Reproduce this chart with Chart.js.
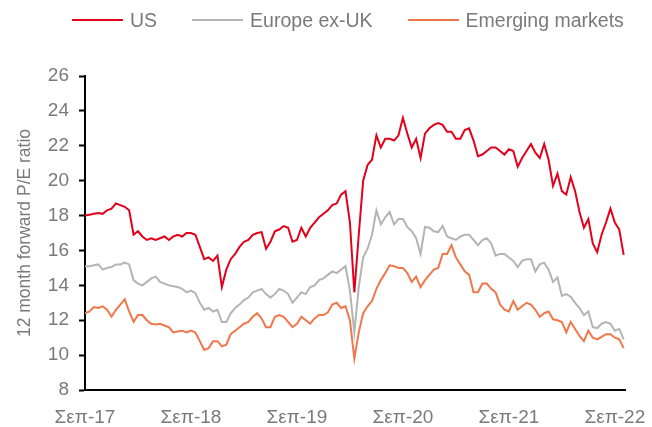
<!DOCTYPE html>
<html lang="el">
<head>
    <meta charset="UTF-8">
    <meta name="viewport" content="width=device-width, initial-scale=1.0">
    <title>12 month forward P/E ratio</title>
    <script src="https://cdn.jsdelivr.net/npm/chart.js"></script>
    <style>
        body {
            margin: 0;
            background: #fff;
            font-family: 'Liberation Sans', Arial, sans-serif;
        }

        #wrap {
            position: relative;
            width: 652px;
            height: 427px;
        }

        #legend {
            position: absolute;
            top: 8px;
            left: 72px;
            display: flex;
            align-items: center;
            color: #7a7a7a;
            font-size: 19.5px;
            line-height: 24px;
            white-space: nowrap;
        }

        #legend .item {
            display: flex;
            align-items: center;
            margin-right: 35px;
        }

        #legend .swatch {
            width: 51px;
            height: 2.5px;
            margin-right: 7px;
        }
    </style>
</head>
<body>
    <div id="wrap">
        <canvas id="peChart" width="652" height="427"></canvas>
        <div id="legend"></div>
    </div>

    <script>
        // x-axis: months since Sep 2017, one reading every half month
        const step = 0.5;
        const tickMonths = [0, 12, 24, 36, 48, 60];
        const tickLabels = ['Σεπ-17', 'Σεπ-18', 'Σεπ-19', 'Σεπ-20', 'Σεπ-21', 'Σεπ-22'];

        const seriesNames = ['US', 'Europe ex-UK', 'Emerging markets'];
        const seriesColors = ['#E3001B', '#B4B4B4', '#EF774A'];

        // values
        const us = [
            18.0, 18.05, 18.1, 18.15, 18.1, 18.3, 18.4, 18.7, 18.6, 18.5,
            18.3, 16.9, 17.1, 16.8, 16.6, 16.7, 16.6, 16.7, 16.8, 16.6,
            16.8, 16.9, 16.8, 17.0, 17.0, 16.9, 16.2, 15.5, 15.6, 15.4,
            15.7, 13.9, 14.9, 15.5, 15.8, 16.2, 16.5, 16.6, 16.9, 17.0,
            17.05, 16.1, 16.5, 17.1, 17.2, 17.4, 17.3, 16.5, 16.6, 17.3,
            16.8, 17.3, 17.6, 17.9, 18.1, 18.3, 18.6, 18.7, 19.2, 19.4,
            17.6, 13.6, 16.9, 20.0, 20.9, 21.2, 22.6, 21.9, 22.4, 22.4,
            22.3, 22.6, 23.6, 22.7, 21.9, 22.4, 21.3, 22.7, 23.0, 23.2,
            23.3, 23.2, 22.8, 22.8, 22.4, 22.4, 22.9, 23.0, 22.3, 21.4,
            21.5, 21.7, 21.9, 21.9, 21.7, 21.5, 21.8, 21.7, 20.8, 21.3,
            21.7, 22.1, 21.6, 21.3, 22.1, 21.2, 19.7, 20.4, 19.4, 19.2,
            20.2, 19.4, 18.2, 17.3, 17.8, 16.4, 15.9, 16.9, 17.6, 18.4,
            17.6, 17.2, 15.75
        ];

        const europe = [
            15.1, 15.1, 15.15, 15.2, 14.9, 15.0, 15.05, 15.2, 15.2, 15.3,
            15.2, 14.3, 14.1, 14.0, 14.2, 14.4, 14.5, 14.2, 14.1, 14.0,
            13.95, 13.9, 13.8, 13.6, 13.7, 13.55, 13.0, 12.6, 12.7, 12.5,
            12.6, 11.9, 11.9, 12.4, 12.7, 12.9, 13.15, 13.3, 13.6, 13.7,
            13.8, 13.5, 13.3, 13.5, 13.8, 13.7, 13.5, 13.0, 13.3, 13.6,
            13.5, 13.9, 14.0, 14.3, 14.4, 14.6, 14.8, 14.7, 14.9, 15.1,
            13.7, 11.3, 13.9, 15.6, 16.1, 16.9, 18.3, 17.5, 17.9, 18.2,
            17.5, 17.8, 17.8, 17.35, 17.1, 16.7, 15.8, 17.35, 17.3, 17.1,
            17.05, 17.4, 16.8, 16.7, 16.6, 16.8, 16.9, 16.9, 16.6, 16.3,
            16.6, 16.7, 16.4, 15.7, 15.8, 15.8, 15.6, 15.4, 15.05, 15.4,
            15.5, 15.5, 14.8, 15.2, 15.3, 14.9, 14.2, 14.45, 13.4, 13.5,
            13.35, 13.0, 12.7, 12.3, 12.5, 11.6, 11.55, 11.8, 11.9, 11.8,
            11.4, 11.5, 10.9
        ];

        const emerging = [
            12.4, 12.5, 12.75, 12.7, 12.8, 12.6, 12.2, 12.6, 12.9, 13.2,
            12.5, 11.9, 12.3, 12.3, 12.0, 11.8, 11.75, 11.8, 11.7, 11.6,
            11.3, 11.35, 11.4, 11.3, 11.4, 11.3, 10.8, 10.3, 10.4, 10.8,
            10.8, 10.5, 10.6, 11.2, 11.4, 11.6, 11.8, 11.9, 12.2, 12.4,
            12.1, 11.6, 11.6, 12.2, 12.3, 12.2, 11.9, 11.6, 11.8, 12.2,
            12.0, 11.8, 12.1, 12.3, 12.3, 12.45, 12.9, 13.0, 12.7, 12.8,
            12.0, 9.8, 11.3, 12.4, 12.8, 13.1, 13.8, 14.3, 14.7, 15.15,
            15.1, 15.0, 15.0, 14.7, 14.2, 14.5, 13.9, 14.3, 14.6, 14.9,
            15.0, 15.8, 15.8, 16.3, 15.6, 15.2, 14.8, 14.6, 13.6, 13.6,
            14.1, 14.1, 13.8, 13.6, 12.9, 12.6, 12.5, 13.1, 12.6, 12.8,
            13.0, 12.9, 12.6, 12.2, 12.4, 12.5, 12.05, 12.0, 11.9, 11.3,
            11.9, 11.5, 11.1, 10.8, 11.4, 11.0, 10.9, 11.05, 11.2, 11.2,
            11.0, 10.9, 10.4
        ];

        const textColor = '#7a7a7a';
        const allSeries = [us, europe, emerging];

        Chart.defaults.font.family = "'Liberation Sans', Arial, sans-serif";

        const datasets = allSeries.map((values, s) => ({
            label: seriesNames[s],
            data: values.map((v, i) => ({ x: i * step, y: v })),
            borderColor: seriesColors[s],
            backgroundColor: seriesColors[s],
            borderWidth: 2,
            pointRadius: 0,
            tension: 0,
            fill: false,
        }));

        // simple legend above the plot
        const legendEl = document.getElementById('legend');
        seriesNames.forEach((name, s) => {
            const item = document.createElement('span');
            item.className = 'item';
            const sw = document.createElement('span');
            sw.className = 'swatch';
            sw.style.background = seriesColors[s];
            item.appendChild(sw);
            item.appendChild(document.createTextNode(name));
            legendEl.appendChild(item);
        });

        const ctx = document.getElementById('peChart').getContext('2d');

        new Chart(ctx, {
            type: 'line',
            data: { datasets: datasets },
            options: {
                responsive: false,
                animation: false,
                layout: {
                    padding: { top: 76, right: 27, bottom: 0, left: 0 },
                },
                plugins: {
                    legend: { display: false },
                    tooltip: { enabled: false },
                },
                scales: {
                    x: {
                        type: 'linear',
                        min: 0,
                        max: 61.15,
                        afterBuildTicks: axis => {
                            axis.ticks = tickMonths.map(m => ({ value: m }));
                        },
                        afterFit: axis => {
                            axis.height = 37;
                            // last label may hang past the axis end, like the original
                            axis.paddingLeft = 0;
                            axis.paddingRight = 0;
                        },
                        ticks: {
                            color: textColor,
                            font: { size: 19 },
                            padding: 16,
                            maxRotation: 0,
                            autoSkip: false,
                            callback: (value, index) => tickLabels[index],
                        },
                        grid: { display: false, drawTicks: false },
                        border: { color: '#000', width: 2 },
                    },
                    y: {
                        min: 8,
                        max: 26,
                        afterFit: axis => { axis.width = 85; },
                        ticks: {
                            stepSize: 2,
                            color: textColor,
                            font: { size: 19 },
                            padding: 10,
                        },
                        grid: {
                            drawOnChartArea: false,
                            drawTicks: true,
                            tickLength: 6,
                            tickColor: '#000',
                            tickWidth: 2,
                        },
                        border: { color: '#000', width: 2 },
                        title: {
                            display: true,
                            text: '12 month forward P/E ratio',
                            color: textColor,
                            font: { size: 17.5 },
                            padding: { top: 15, bottom: 0 },
                        },
                    },
                },
            },
        });
    </script>
</body>
</html>
